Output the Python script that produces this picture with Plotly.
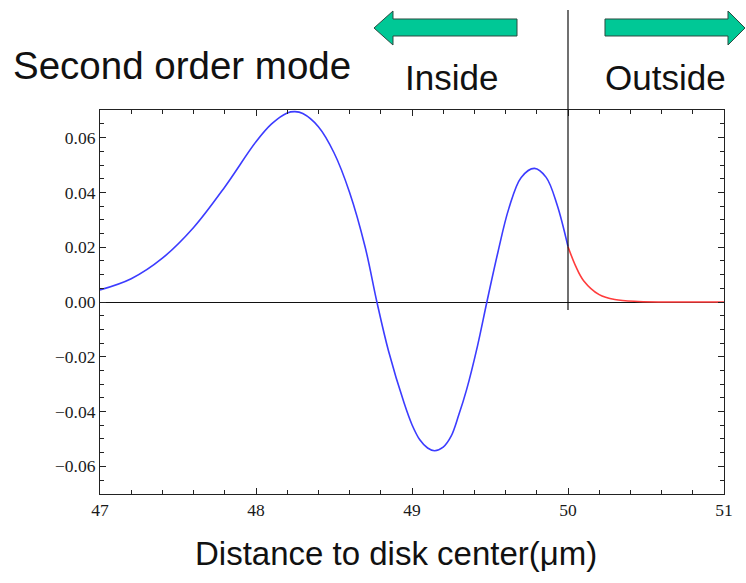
import plotly.graph_objects as go

# Radial field profile of the second-order whispering-gallery mode
# inside the disk (r < 50 um)
r_inside = [47.0, 47.2, 47.4, 47.6, 47.8, 48.0, 48.1, 48.2, 48.25, 48.3, 48.4,
            48.5, 48.6, 48.7, 48.775, 48.85, 48.95, 49.0, 49.05, 49.1, 49.145,
            49.2, 49.25, 49.3, 49.35, 49.42, 49.48, 49.55, 49.62, 49.70,
            49.785, 49.86, 49.93, 50.0]
field_inside = [0.0044, 0.0085, 0.0160, 0.0272, 0.0420, 0.0585, 0.0650, 0.0690,
                0.0695, 0.0688, 0.0640, 0.0545, 0.0400, 0.0200, 0.0, -0.0180,
                -0.0370, -0.0448, -0.0503, -0.0533, -0.0543, -0.0530, -0.0491,
                -0.0412, -0.0320, -0.0160, 0.0, 0.0180, 0.0340, 0.0455, 0.0488,
                0.0455, 0.0355, 0.0202]

# Evanescent tail outside the disk (r > 50 um)
r_outside = [50.0, 50.05, 50.1, 50.2, 50.3, 50.45, 50.7, 51.0]
field_outside = [0.0202, 0.0130, 0.0078, 0.0027, 0.0009, 0.0002, 0.0, 0.0]

W, H = 746, 583
L, R, T, B = 100, 22, 110, 89
PW, PH = W - L - R, H - T - B


def px(x):
    return (x - L) / PW


def py(y):
    return (H - B - y) / PH


fig = go.Figure()
fig.add_trace(go.Scatter(x=r_inside, y=field_inside, mode="lines",
                         line=dict(color="#3c3cff", width=1.6, shape="spline",
                                   smoothing=1.0),
                         showlegend=False, hoverinfo="skip"))
fig.add_trace(go.Scatter(x=r_outside, y=field_outside, mode="lines",
                         line=dict(color="#ff3c3c", width=1.6, shape="spline",
                                   smoothing=1.0),
                         showlegend=False, hoverinfo="skip"))

axis_common = dict(showline=True, linecolor="#222", linewidth=1.2, mirror="ticks",
                   ticks="inside", ticklen=6, tickwidth=1.1, tickcolor="#222",
                   showgrid=False,
                   tickfont=dict(family="Liberation Serif", size=17.5, color="#1a1a1a"))

fig.update_xaxes(range=[47, 51], tickmode="linear", tick0=47, dtick=1,
                 minor=dict(ticks="inside", dtick=0.2, tick0=47, ticklen=3.5,
                            tickwidth=1, tickcolor="#222", showgrid=False),
                 zeroline=False, **axis_common)
fig.update_yaxes(range=[-0.0701, 0.0701], tickmode="linear", tick0=0, dtick=0.02,
                 tickformat=".2f",
                 minor=dict(ticks="inside", dtick=0.005, tick0=0, ticklen=3.5,
                            tickwidth=1, tickcolor="#222", showgrid=False),
                 zeroline=True, zerolinecolor="#111", zerolinewidth=1.2,
                 **axis_common)

# Disk boundary marker
shapes = [dict(type="line", xref="x", yref="paper", x0=50, x1=50,
               y0=py(310), y1=py(10), line=dict(color="#111", width=1.2))]


def arrow_path(points):
    return "M " + " L ".join(f"{px(a):.5f},{py(b):.5f}" for a, b in points) + " Z"


left_arrow = [(517, 19), (393, 19), (393, 11), (374, 28), (393, 45), (393, 36), (517, 36)]
right_arrow = [(605, 19), (728, 19), (728, 11), (745, 28), (728, 45), (728, 36), (605, 36)]
for pts in (left_arrow, right_arrow):
    shapes.append(dict(type="path", xref="paper", yref="paper", path=arrow_path(pts),
                       fillcolor="#00c896", line=dict(color="#2c4a40", width=1)))

text_font = dict(family="Liberation Sans", color="#111")
annotations = [
    dict(text="Second order mode", x=px(182), y=py(65), font=dict(size=38.5, **text_font)),
    dict(text="Inside", x=px(451), y=py(77), font=dict(size=35, **text_font)),
    dict(text="Outside", x=px(665), y=py(77), font=dict(size=35, **text_font)),
    dict(text="Distance to disk center(μm)", x=px(396), y=py(553),
         font=dict(size=33, **text_font)),
]
for a in annotations:
    a.update(xref="paper", yref="paper", showarrow=False, xanchor="center",
             yanchor="middle")

fig.update_layout(width=W, height=H, autosize=False,
                  margin=dict(l=L, r=R, t=T, b=B, pad=0),
                  paper_bgcolor="white", plot_bgcolor="white",
                  shapes=shapes, annotations=annotations)

fig.write_html("out.html")
